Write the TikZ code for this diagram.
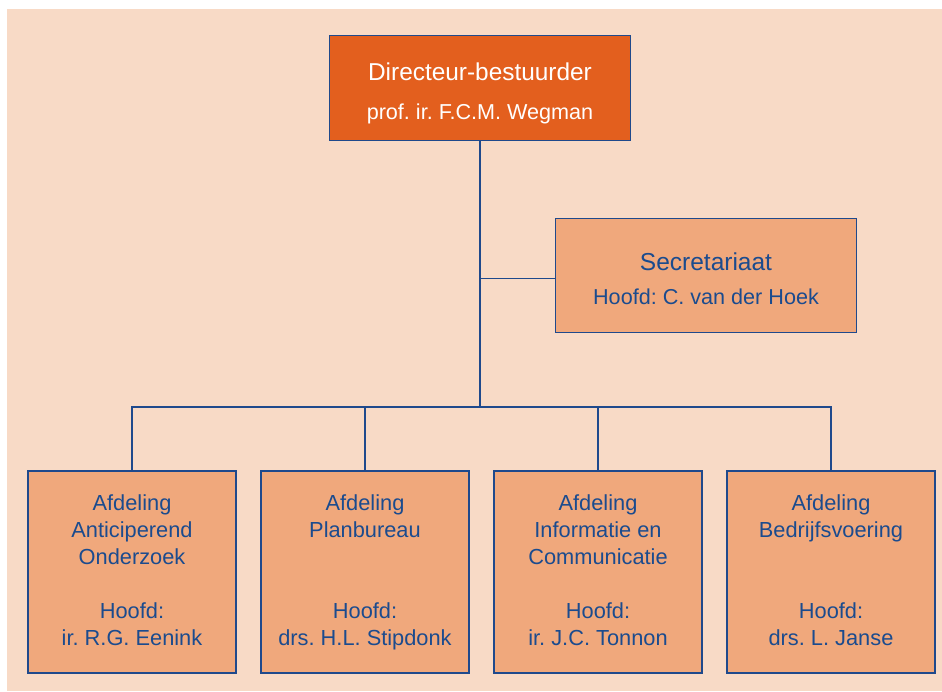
\documentclass[tikz,border=0pt]{standalone}
\usepackage{fontspec}
\setmainfont{Liberation Sans}
\usetikzlibrary{positioning}
\definecolor{bgpeach}{RGB}{248,218,198}
\definecolor{boxorange}{RGB}{240,168,124}
\definecolor{dirorange}{RGB}{227,95,30}
\definecolor{lineblue}{RGB}{31,73,140}
\definecolor{textblue}{RGB}{27,75,142}
\frenchspacing

\begin{document}
\begin{tikzpicture}[x=1pt,y=-1pt,node distance=23.6pt,line width=1.4pt,
box/.style={draw=lineblue,fill=boxorange,inner sep=0pt},
afd/.style={box,minimum width=208pt,minimum height=202pt},
txt/.style={text=textblue,align=center,inner sep=0pt,anchor=north,font=\fontsize{21.8}{27}\selectfont}]
\fill[bgpeach] (7,9) rectangle (942,691);
\useasboundingbox (0,0) rectangle (942,691);

% top of the chart
\node[box,fill=dirorange,minimum width=301pt,minimum height=105pt] (dir) at (480,88) {};
\node[txt,text=white,font=\fontsize{24.4}{39.3}\selectfont] (dirt) at ([yshift=-27.5pt]dir.north)
  {Directeur-bestuurder\\{\fontsize{21.6}{39.3}\selectfont prof. ir. F.C.M. Wegman}};
\node[box,minimum width=301pt,minimum height=114pt] (sec) at (706,275.4) {};
\node[txt,font=\fontsize{24.5}{34}\selectfont] (sect) at ([yshift=-34pt]sec.north)
  {Secretariaat\\{\fontsize{21.6}{34}\selectfont Hoofd: C. van der Hoek}};

% afdelingen
\node[afd] (a1) at (132,571.8) {};
\node[afd,right=of a1] (a2) {};
\node[afd,right=of a2] (a3) {};
\node[afd,right=of a3] (a4) {};
\node[txt] (a1t) at ([yshift=-23.5pt]a1.north) {Afdeling\\Anticiperend\\Onderzoek};
\node[txt] (a2t) at ([yshift=-23.5pt]a2.north) {Afdeling\\Planbureau};
\node[txt] (a3t) at ([yshift=-23.5pt]a3.north) {Afdeling\\Informatie en\\Communicatie};
\node[txt] (a4t) at ([yshift=-23.5pt]a4.north) {Afdeling\\Bedrijfsvoering};
\node[txt] (a1h) at ([yshift=-131.5pt]a1.north) {Hoofd:\\ir. R.G. Eenink};
\node[txt] (a2h) at ([yshift=-131.5pt]a2.north) {Hoofd:\\drs. H.L. Stipdonk};
\node[txt] (a3h) at ([yshift=-131.5pt]a3.north) {Hoofd:\\ir. J.C. Tonnon};
\node[txt] (a4h) at ([yshift=-131.5pt]a4.north) {Hoofd:\\drs. L. Janse};

% lijnen
\coordinate (bus) at (480,407);
\draw[lineblue] (dir.south) -- (bus);
\draw[lineblue] ([yshift=-3pt]dir.south |- sec.west) -- ([yshift=-3pt]sec.west);
\draw[lineblue] (a1.north) -- (a1.north |- bus) -- (a4.north |- bus) -- (a4.north);
\draw[lineblue] (a2.north) -- (a2.north |- bus);
\draw[lineblue] (a3.north) -- (a3.north |- bus);
\end{tikzpicture}
\end{document}
